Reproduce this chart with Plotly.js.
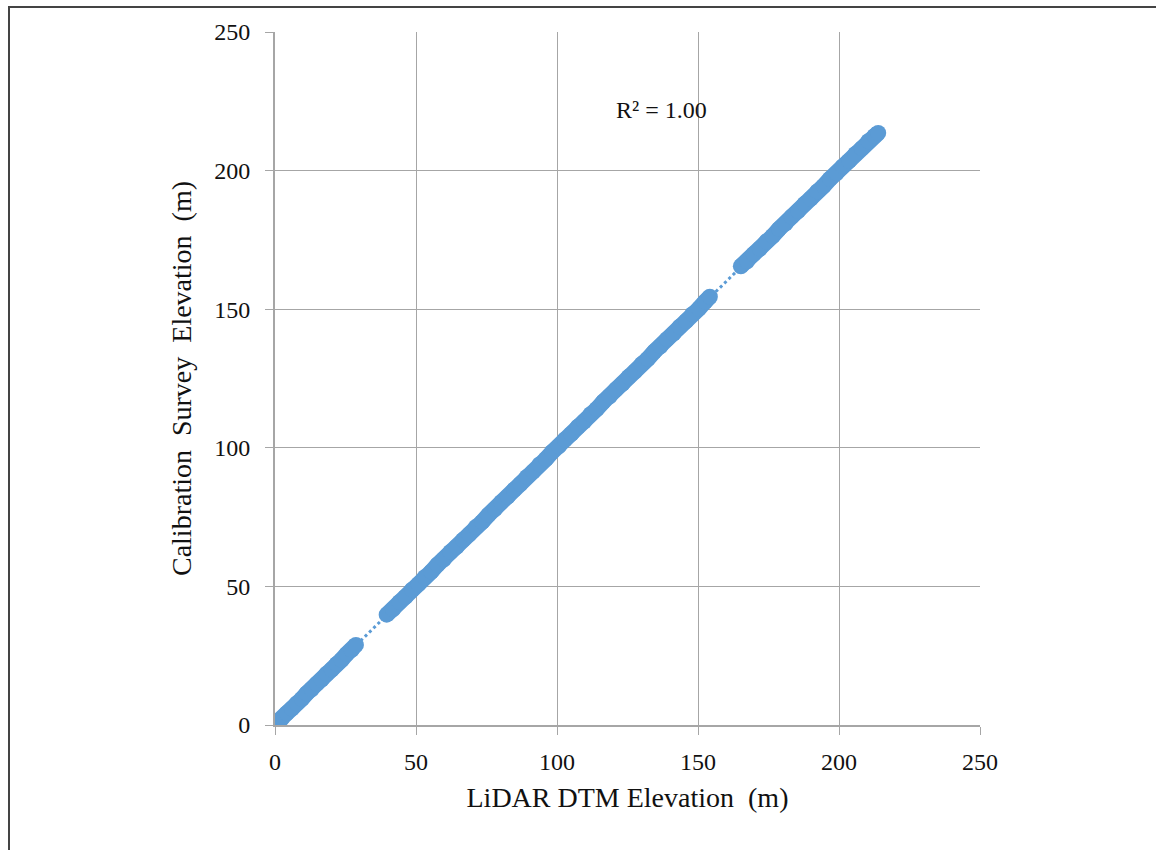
<!DOCTYPE html>
<html>
<head>
<meta charset="utf-8">
<script src="https://cdn.plot.ly/plotly-3.0.1.min.js"></script>
<style>
  html, body { margin: 0; padding: 0; background: #fff; }
  #wrap { position: relative; width: 1156px; height: 850px; }
  #chart { width: 1156px; height: 850px; }
  #frame { position: absolute; left: 8px; top: 6px; width: 1148px; height: 844px;
           border-top: 2px solid #444; border-left: 2px solid #444; pointer-events: none; }
</style>
</head>
<body>
<div id="wrap">
  <div id="chart"></div>
  <div id="frame"></div>
</div>
<script>
// LiDAR DTM elevation (x) vs calibration survey elevation (y), metres
// null separates the three runs of survey points (gaps in the data)
var lidarElev = [
  0.8, 2.4, 4.1, 6.0, 7.7, 9.5, 11.2, 13.0, 14.8, 16.5, 18.3, 20.1, 21.9, 23.6, 25.4, 27.2, 28.7,
  null,
  39.6, 41.8, 44.1, 46.3, 48.6, 50.9, 53.1, 55.4, 57.6, 59.9, 62.2, 64.4, 66.7, 68.9, 71.2, 73.5,
  75.7, 78.0, 80.2, 82.5, 84.8, 87.0, 89.3, 91.5, 93.8, 96.1, 98.3, 100.6, 102.8, 105.1, 107.4,
  109.6, 111.9, 114.1, 116.4, 118.7, 120.9, 123.2, 125.4, 127.7, 130.0, 132.2, 134.5, 136.7,
  139.0, 141.3, 143.5, 145.8, 148.0, 150.3, 152.5, 154.2,
  null,
  165.2, 167.4, 169.7, 171.9, 174.2, 176.5, 178.7, 181.0, 183.2, 185.5, 187.8, 190.0, 192.3,
  194.5, 196.8, 199.1, 201.3, 203.6, 205.8, 208.1, 210.4, 212.6, 213.9
];
var surveyElev = [
  1.0, 2.3, 4.2, 5.9, 7.8, 9.4, 11.4, 12.9, 14.9, 16.4, 18.5, 20.0, 22.0, 23.5, 25.6, 27.1, 28.9,
  null,
  39.8, 41.7, 44.3, 46.2, 48.8, 50.8, 53.3, 55.3, 57.8, 59.8, 62.4, 64.3, 66.8, 68.8, 71.4, 73.3,
  75.8, 77.9, 80.4, 82.4, 84.9, 86.9, 89.5, 91.4, 94.0, 96.0, 98.5, 100.5, 103.0, 105.0, 107.6,
  109.5, 112.1, 114.0, 116.6, 118.6, 121.1, 123.1, 125.6, 127.6, 130.2, 132.1, 134.7, 136.6,
  139.2, 141.2, 143.7, 145.7, 148.2, 150.2, 152.7, 154.5,
  null,
  165.5, 167.3, 169.9, 171.8, 174.4, 176.4, 178.9, 180.9, 183.4, 185.4, 188.0, 189.9, 192.5,
  194.4, 197.0, 199.0, 201.5, 203.5, 206.0, 208.0, 210.6, 212.5, 213.6
];
// fitted trendline end points (y = x)
var trendX = [0, 214];
var trendY = [0, 214];
var tickVals = [0, 50, 100, 150, 200, 250];
var tickText = ['0', '50', '100', '150', '200', '250'];
var r2Label = 'R² = 1.00';

var blue = '#5b9bd5';
var gridCol = '#a6a6a6';
var serif = 'Liberation Serif, Times New Roman, serif';
var txtCol = '#111';

var traces = [
  {
    x: trendX, y: trendY, type: 'scatter', mode: 'lines',
    line: { color: blue, width: 3, dash: 'dot' },
    hoverinfo: 'skip', showlegend: false
  },
  {
    x: lidarElev, y: surveyElev, type: 'scatter', mode: 'lines+markers',
    connectgaps: false,
    line: { color: blue, width: 16 },
    marker: { color: blue, size: 16, line: { width: 0 } },
    showlegend: false
  }
];

var axisCommon = {
  range: [0, 250], tickmode: 'array', tickvals: tickVals, ticktext: tickText,
  showgrid: true, gridcolor: gridCol, gridwidth: 1,
  showline: true, linecolor: gridCol, linewidth: 2,
  ticks: 'outside', ticklen: 8, tickcolor: gridCol, tickwidth: 1,
  zeroline: false, fixedrange: true,
  tickfont: { family: serif, size: 24, color: txtCol }
};

var layout = {
  width: 1156, height: 850,
  margin: { l: 275, r: 176, t: 32, b: 125 },
  paper_bgcolor: '#fff', plot_bgcolor: '#fff',
  showlegend: false,
  xaxis: Object.assign({}, axisCommon, {
    title: { text: 'LiDAR DTM Elevation  (m)', font: { family: serif, size: 28, color: txtCol }, standoff: 14 },
    ticklabelstandoff: 6
  }),
  yaxis: Object.assign({}, axisCommon, {
    title: { text: 'Calibration  Survey  Elevation  (m)', font: { family: serif, size: 28, color: txtCol }, standoff: 14 },
    ticklabelstandoff: 10
  }),
  annotations: [{
    x: 137, y: 222, xref: 'x', yref: 'y', text: r2Label, showarrow: false,
    font: { family: serif, size: 24, color: txtCol }
  }]
};

Plotly.newPlot('chart', traces, layout, { staticPlot: true, displayModeBar: false });
</script>
</body>
</html>
